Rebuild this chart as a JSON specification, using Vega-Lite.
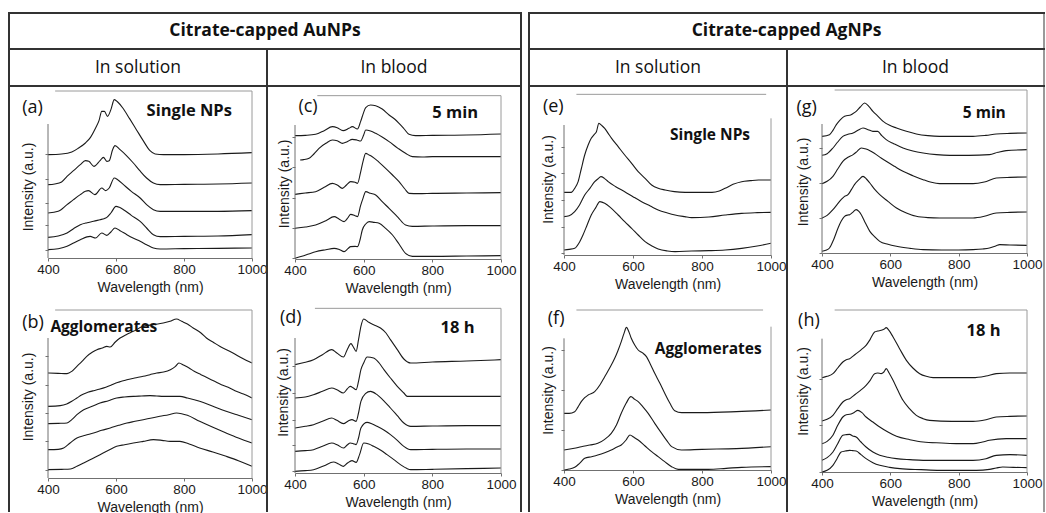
{
"$schema":"https://vega.github.io/schema/vega-lite/v6.json",
"background":"white",
"padding":{"left":8,"top":12,"right":0,"bottom":0},
"config":{
 "view":{"stroke":null},
 "axis":{"labelFont":"Liberation Sans","titleFont":"Liberation Sans","labelFontSize":13.5,"titleFontSize":14,"titleFontWeight":"normal","labelColor":"#1a1a1a","titleColor":"#1a1a1a","domainColor":"#707070","tickColor":"#707070","tickSize":3,"grid":false,"labelPadding":1,"titlePadding":5,"format":"d"}
},
"datasets":{
"a":[
{"s":1,"w":400,"v":310},{"s":1,"w":440,"v":312},{"s":1,"w":470,"v":318},{"s":1,"w":490,"v":330},{"s":1,"w":510,"v":345},{"s":1,"w":525,"v":362},{"s":1,"w":540,"v":390},{"s":1,"w":550,"v":412},{"s":1,"w":558,"v":440},{"s":1,"w":566,"v":440},{"s":1,"w":575,"v":425},{"s":1,"w":585,"v":445},{"s":1,"w":595,"v":475},{"s":1,"w":605,"v":468},{"s":1,"w":620,"v":450},{"s":1,"w":640,"v":418},{"s":1,"w":660,"v":385},{"s":1,"w":680,"v":352},{"s":1,"w":700,"v":322},{"s":1,"w":715,"v":312},{"s":1,"w":740,"v":310},{"s":1,"w":800,"v":310},{"s":1,"w":900,"v":312},{"s":1,"w":1000,"v":316},
{"s":2,"w":400,"v":220},{"s":2,"w":420,"v":222},{"s":2,"w":440,"v":228},{"s":2,"w":456,"v":245},{"s":2,"w":475,"v":262},{"s":2,"w":495,"v":280},{"s":2,"w":510,"v":292},{"s":2,"w":520,"v":290},{"s":2,"w":535,"v":275},{"s":2,"w":553,"v":292},{"s":2,"w":563,"v":302},{"s":2,"w":573,"v":290},{"s":2,"w":580,"v":292},{"s":2,"w":590,"v":325},{"s":2,"w":597,"v":337},{"s":2,"w":612,"v":325},{"s":2,"w":630,"v":308},{"s":2,"w":651,"v":285},{"s":2,"w":670,"v":262},{"s":2,"w":690,"v":240},{"s":2,"w":710,"v":225},{"s":2,"w":730,"v":220},{"s":2,"w":800,"v":221},{"s":2,"w":900,"v":222},{"s":2,"w":1000,"v":225},
{"s":3,"w":400,"v":135},{"s":3,"w":430,"v":140},{"s":3,"w":456,"v":160},{"s":3,"w":475,"v":175},{"s":3,"w":495,"v":190},{"s":3,"w":510,"v":200},{"s":3,"w":519,"v":202},{"s":3,"w":538,"v":190},{"s":3,"w":558,"v":210},{"s":3,"w":570,"v":202},{"s":3,"w":580,"v":210},{"s":3,"w":595,"v":240},{"s":3,"w":605,"v":235},{"s":3,"w":622,"v":220},{"s":3,"w":645,"v":200},{"s":3,"w":671,"v":180},{"s":3,"w":690,"v":160},{"s":3,"w":710,"v":145},{"s":3,"w":730,"v":140},{"s":3,"w":800,"v":140},{"s":3,"w":900,"v":140},{"s":3,"w":1000,"v":142},
{"s":4,"w":400,"v":62},{"s":4,"w":430,"v":66},{"s":4,"w":456,"v":75},{"s":4,"w":475,"v":88},{"s":4,"w":495,"v":100},{"s":4,"w":515,"v":106},{"s":4,"w":534,"v":110},{"s":4,"w":553,"v":115},{"s":4,"w":565,"v":118},{"s":4,"w":573,"v":122},{"s":4,"w":585,"v":135},{"s":4,"w":600,"v":155},{"s":4,"w":610,"v":152},{"s":4,"w":622,"v":145},{"s":4,"w":645,"v":128},{"s":4,"w":671,"v":110},{"s":4,"w":690,"v":90},{"s":4,"w":710,"v":70},{"s":4,"w":730,"v":64},{"s":4,"w":800,"v":65},{"s":4,"w":900,"v":66},{"s":4,"w":1000,"v":70},
{"s":5,"w":400,"v":25},{"s":5,"w":430,"v":28},{"s":5,"w":456,"v":35},{"s":5,"w":475,"v":45},{"s":5,"w":495,"v":55},{"s":5,"w":524,"v":65},{"s":5,"w":540,"v":60},{"s":5,"w":558,"v":75},{"s":5,"w":573,"v":68},{"s":5,"w":585,"v":78},{"s":5,"w":597,"v":90},{"s":5,"w":612,"v":82},{"s":5,"w":632,"v":70},{"s":5,"w":650,"v":60},{"s":5,"w":671,"v":50},{"s":5,"w":690,"v":40},{"s":5,"w":710,"v":30},{"s":5,"w":730,"v":27},{"s":5,"w":800,"v":28},{"s":5,"w":900,"v":29},{"s":5,"w":1000,"v":30}
],
"b":[
{"s":1,"w":400,"v":315},{"s":1,"w":430,"v":314},{"s":1,"w":456,"v":313},{"s":1,"w":470,"v":320},{"s":1,"w":485,"v":335},{"s":1,"w":500,"v":350},{"s":1,"w":514,"v":365},{"s":1,"w":530,"v":377},{"s":1,"w":544,"v":385},{"s":1,"w":560,"v":390},{"s":1,"w":573,"v":395},{"s":1,"w":583,"v":393},{"s":1,"w":598,"v":408},{"s":1,"w":612,"v":420},{"s":1,"w":630,"v":430},{"s":1,"w":651,"v":440},{"s":1,"w":680,"v":455},{"s":1,"w":710,"v":460},{"s":1,"w":739,"v":465},{"s":1,"w":759,"v":470},{"s":1,"w":778,"v":477},{"s":1,"w":793,"v":470},{"s":1,"w":810,"v":462},{"s":1,"w":827,"v":450},{"s":1,"w":850,"v":435},{"s":1,"w":866,"v":420},{"s":1,"w":885,"v":408},{"s":1,"w":905,"v":395},{"s":1,"w":925,"v":385},{"s":1,"w":944,"v":375},{"s":1,"w":970,"v":360},{"s":1,"w":1000,"v":345},
{"s":2,"w":400,"v":215},{"s":2,"w":436,"v":217},{"s":2,"w":455,"v":222},{"s":2,"w":470,"v":230},{"s":2,"w":485,"v":240},{"s":2,"w":500,"v":250},{"s":2,"w":517,"v":257},{"s":2,"w":534,"v":262},{"s":2,"w":550,"v":266},{"s":2,"w":570,"v":272},{"s":2,"w":585,"v":278},{"s":2,"w":600,"v":285},{"s":2,"w":616,"v":290},{"s":2,"w":632,"v":295},{"s":2,"w":655,"v":300},{"s":2,"w":680,"v":305},{"s":2,"w":700,"v":310},{"s":2,"w":720,"v":315},{"s":2,"w":740,"v":318},{"s":2,"w":760,"v":325},{"s":2,"w":775,"v":335},{"s":2,"w":785,"v":345},{"s":2,"w":800,"v":338},{"s":2,"w":815,"v":330},{"s":2,"w":830,"v":320},{"s":2,"w":850,"v":310},{"s":2,"w":870,"v":300},{"s":2,"w":890,"v":290},{"s":2,"w":910,"v":280},{"s":2,"w":930,"v":272},{"s":2,"w":950,"v":262},{"s":2,"w":975,"v":252},{"s":2,"w":1000,"v":240},
{"s":3,"w":400,"v":163},{"s":3,"w":430,"v":164},{"s":3,"w":456,"v":165},{"s":3,"w":470,"v":175},{"s":3,"w":485,"v":190},{"s":3,"w":505,"v":205},{"s":3,"w":530,"v":215},{"s":3,"w":553,"v":225},{"s":3,"w":578,"v":232},{"s":3,"w":602,"v":240},{"s":3,"w":625,"v":243},{"s":3,"w":651,"v":245},{"s":3,"w":675,"v":246},{"s":3,"w":700,"v":247},{"s":3,"w":720,"v":246},{"s":3,"w":739,"v":245},{"s":3,"w":760,"v":245},{"s":3,"w":788,"v":245},{"s":3,"w":810,"v":240},{"s":3,"w":846,"v":230},{"s":3,"w":885,"v":215},{"s":3,"w":924,"v":200},{"s":3,"w":960,"v":188},{"s":3,"w":1000,"v":175},
{"s":4,"w":400,"v":85},{"s":4,"w":430,"v":86},{"s":4,"w":446,"v":90},{"s":4,"w":465,"v":105},{"s":4,"w":485,"v":120},{"s":4,"w":510,"v":128},{"s":4,"w":534,"v":135},{"s":4,"w":558,"v":143},{"s":4,"w":583,"v":150},{"s":4,"w":608,"v":158},{"s":4,"w":632,"v":165},{"s":4,"w":656,"v":170},{"s":4,"w":680,"v":175},{"s":4,"w":705,"v":180},{"s":4,"w":729,"v":185},{"s":4,"w":755,"v":190},{"s":4,"w":778,"v":195},{"s":4,"w":793,"v":193},{"s":4,"w":810,"v":188},{"s":4,"w":846,"v":170},{"s":4,"w":885,"v":152},{"s":4,"w":924,"v":135},{"s":4,"w":960,"v":120},{"s":4,"w":1000,"v":105},
{"s":5,"w":400,"v":25},{"s":5,"w":440,"v":26},{"s":5,"w":466,"v":27},{"s":5,"w":485,"v":35},{"s":5,"w":505,"v":45},{"s":5,"w":530,"v":58},{"s":5,"w":553,"v":70},{"s":5,"w":578,"v":83},{"s":5,"w":602,"v":95},{"s":5,"w":625,"v":100},{"s":5,"w":651,"v":105},{"s":5,"w":680,"v":110},{"s":5,"w":710,"v":115},{"s":5,"w":735,"v":113},{"s":5,"w":759,"v":110},{"s":5,"w":788,"v":110},{"s":5,"w":815,"v":102},{"s":5,"w":846,"v":90},{"s":5,"w":885,"v":78},{"s":5,"w":924,"v":65},{"s":5,"w":960,"v":52},{"s":5,"w":1000,"v":35}
],
"c":[
{"s":1,"w":400,"v":370},{"s":1,"w":430,"v":371},{"s":1,"w":460,"v":374},{"s":1,"w":485,"v":385},{"s":1,"w":509,"v":397},{"s":1,"w":523,"v":394},{"s":1,"w":540,"v":385},{"s":1,"w":557,"v":392},{"s":1,"w":567,"v":397},{"s":1,"w":582,"v":390},{"s":1,"w":591,"v":412},{"s":1,"w":600,"v":440},{"s":1,"w":606,"v":454},{"s":1,"w":620,"v":462},{"s":1,"w":635,"v":460},{"s":1,"w":654,"v":450},{"s":1,"w":674,"v":432},{"s":1,"w":690,"v":420},{"s":1,"w":703,"v":407},{"s":1,"w":718,"v":390},{"s":1,"w":732,"v":374},{"s":1,"w":751,"v":370},{"s":1,"w":800,"v":371},{"s":1,"w":900,"v":372},{"s":1,"w":1000,"v":375},
{"s":2,"w":415,"v":297},{"s":2,"w":425,"v":298},{"s":2,"w":441,"v":302},{"s":2,"w":455,"v":315},{"s":2,"w":470,"v":332},{"s":2,"w":490,"v":347},{"s":2,"w":509,"v":357},{"s":2,"w":523,"v":355},{"s":2,"w":538,"v":347},{"s":2,"w":552,"v":352},{"s":2,"w":567,"v":359},{"s":2,"w":580,"v":357},{"s":2,"w":591,"v":354},{"s":2,"w":600,"v":372},{"s":2,"w":606,"v":387},{"s":2,"w":620,"v":384},{"s":2,"w":635,"v":377},{"s":2,"w":655,"v":365},{"s":2,"w":674,"v":352},{"s":2,"w":700,"v":332},{"s":2,"w":722,"v":317},{"s":2,"w":742,"v":307},{"s":2,"w":770,"v":306},{"s":2,"w":800,"v":307},{"s":2,"w":900,"v":307},{"s":2,"w":1000,"v":307},
{"s":3,"w":400,"v":194},{"s":3,"w":430,"v":198},{"s":3,"w":460,"v":202},{"s":3,"w":485,"v":215},{"s":3,"w":509,"v":227},{"s":3,"w":523,"v":222},{"s":3,"w":538,"v":212},{"s":3,"w":550,"v":222},{"s":3,"w":562,"v":232},{"s":3,"w":575,"v":230},{"s":3,"w":582,"v":227},{"s":3,"w":591,"v":260},{"s":3,"w":598,"v":292},{"s":3,"w":606,"v":317},{"s":3,"w":616,"v":312},{"s":3,"w":625,"v":307},{"s":3,"w":645,"v":290},{"s":3,"w":664,"v":272},{"s":3,"w":684,"v":252},{"s":3,"w":703,"v":232},{"s":3,"w":720,"v":210},{"s":3,"w":732,"v":197},{"s":3,"w":760,"v":196},{"s":3,"w":800,"v":197},{"s":3,"w":900,"v":198},{"s":3,"w":1000,"v":199},
{"s":4,"w":400,"v":92},{"s":4,"w":430,"v":96},{"s":4,"w":460,"v":102},{"s":4,"w":490,"v":115},{"s":4,"w":514,"v":127},{"s":4,"w":528,"v":120},{"s":4,"w":543,"v":112},{"s":4,"w":555,"v":125},{"s":4,"w":562,"v":134},{"s":4,"w":575,"v":130},{"s":4,"w":582,"v":127},{"s":4,"w":591,"v":160},{"s":4,"w":598,"v":182},{"s":4,"w":606,"v":202},{"s":4,"w":620,"v":197},{"s":4,"w":635,"v":192},{"s":4,"w":654,"v":172},{"s":4,"w":674,"v":152},{"s":4,"w":700,"v":125},{"s":4,"w":722,"v":102},{"s":4,"w":742,"v":98},{"s":4,"w":800,"v":99},{"s":4,"w":900,"v":100},{"s":4,"w":1000,"v":100},
{"s":5,"w":400,"v":2},{"s":5,"w":420,"v":8},{"s":5,"w":440,"v":15},{"s":5,"w":460,"v":22},{"s":5,"w":490,"v":28},{"s":5,"w":514,"v":32},{"s":5,"w":530,"v":28},{"s":5,"w":543,"v":22},{"s":5,"w":555,"v":32},{"s":5,"w":562,"v":37},{"s":5,"w":575,"v":38},{"s":5,"w":582,"v":37},{"s":5,"w":590,"v":60},{"s":5,"w":596,"v":87},{"s":5,"w":606,"v":105},{"s":5,"w":616,"v":112},{"s":5,"w":630,"v":110},{"s":5,"w":645,"v":107},{"s":5,"w":664,"v":92},{"s":5,"w":684,"v":72},{"s":5,"w":703,"v":45},{"s":5,"w":722,"v":17},{"s":5,"w":742,"v":8},{"s":5,"w":800,"v":8},{"s":5,"w":900,"v":9},{"s":5,"w":1000,"v":10}
],
"d":[
{"s":1,"w":400,"v":325},{"s":1,"w":430,"v":332},{"s":1,"w":454,"v":340},{"s":1,"w":480,"v":355},{"s":1,"w":507,"v":370},{"s":1,"w":522,"v":360},{"s":1,"w":541,"v":348},{"s":1,"w":552,"v":370},{"s":1,"w":563,"v":388},{"s":1,"w":570,"v":378},{"s":1,"w":578,"v":365},{"s":1,"w":585,"v":400},{"s":1,"w":592,"v":440},{"s":1,"w":600,"v":462},{"s":1,"w":615,"v":452},{"s":1,"w":629,"v":445},{"s":1,"w":649,"v":435},{"s":1,"w":665,"v":420},{"s":1,"w":678,"v":400},{"s":1,"w":698,"v":370},{"s":1,"w":717,"v":342},{"s":1,"w":737,"v":330},{"s":1,"w":800,"v":333},{"s":1,"w":900,"v":336},{"s":1,"w":1000,"v":340},
{"s":2,"w":400,"v":225},{"s":2,"w":430,"v":228},{"s":2,"w":454,"v":235},{"s":2,"w":480,"v":245},{"s":2,"w":507,"v":255},{"s":2,"w":522,"v":250},{"s":2,"w":541,"v":240},{"s":2,"w":552,"v":252},{"s":2,"w":561,"v":260},{"s":2,"w":570,"v":255},{"s":2,"w":578,"v":250},{"s":2,"w":585,"v":275},{"s":2,"w":592,"v":310},{"s":2,"w":600,"v":330},{"s":2,"w":610,"v":348},{"s":2,"w":629,"v":345},{"s":2,"w":645,"v":330},{"s":2,"w":659,"v":310},{"s":2,"w":678,"v":285},{"s":2,"w":698,"v":260},{"s":2,"w":717,"v":240},{"s":2,"w":727,"v":230},{"s":2,"w":800,"v":230},{"s":2,"w":900,"v":230},{"s":2,"w":1000,"v":230},
{"s":3,"w":400,"v":135},{"s":3,"w":430,"v":140},{"s":3,"w":454,"v":145},{"s":3,"w":480,"v":155},{"s":3,"w":507,"v":165},{"s":3,"w":522,"v":158},{"s":3,"w":541,"v":148},{"s":3,"w":555,"v":156},{"s":3,"w":566,"v":160},{"s":3,"w":578,"v":155},{"s":3,"w":585,"v":180},{"s":3,"w":592,"v":215},{"s":3,"w":605,"v":238},{"s":3,"w":620,"v":245},{"s":3,"w":639,"v":235},{"s":3,"w":660,"v":215},{"s":3,"w":678,"v":195},{"s":3,"w":698,"v":172},{"s":3,"w":717,"v":150},{"s":3,"w":737,"v":140},{"s":3,"w":800,"v":141},{"s":3,"w":900,"v":142},{"s":3,"w":1000,"v":142},
{"s":4,"w":400,"v":65},{"s":4,"w":430,"v":67},{"s":4,"w":454,"v":70},{"s":4,"w":480,"v":80},{"s":4,"w":507,"v":90},{"s":4,"w":524,"v":84},{"s":4,"w":541,"v":75},{"s":4,"w":552,"v":84},{"s":4,"w":561,"v":90},{"s":4,"w":570,"v":88},{"s":4,"w":578,"v":85},{"s":4,"w":585,"v":105},{"s":4,"w":592,"v":135},{"s":4,"w":610,"v":152},{"s":4,"w":625,"v":147},{"s":4,"w":639,"v":140},{"s":4,"w":660,"v":128},{"s":4,"w":678,"v":115},{"s":4,"w":698,"v":98},{"s":4,"w":717,"v":80},{"s":4,"w":737,"v":70},{"s":4,"w":800,"v":71},{"s":4,"w":900,"v":72},{"s":4,"w":1000,"v":72},
{"s":5,"w":400,"v":5},{"s":5,"w":430,"v":7},{"s":5,"w":454,"v":10},{"s":5,"w":485,"v":22},{"s":5,"w":512,"v":33},{"s":5,"w":527,"v":27},{"s":5,"w":541,"v":20},{"s":5,"w":553,"v":30},{"s":5,"w":566,"v":37},{"s":5,"w":578,"v":32},{"s":5,"w":588,"v":55},{"s":5,"w":600,"v":90},{"s":5,"w":615,"v":87},{"s":5,"w":629,"v":80},{"s":5,"w":650,"v":68},{"s":5,"w":668,"v":55},{"s":5,"w":688,"v":40},{"s":5,"w":707,"v":25},{"s":5,"w":725,"v":14},{"s":5,"w":737,"v":10},{"s":5,"w":800,"v":11},{"s":5,"w":900,"v":13},{"s":5,"w":1000,"v":15}
],
"e":[
{"s":1,"w":400,"v":188},{"s":1,"w":421,"v":188},{"s":1,"w":431,"v":200},{"s":1,"w":441,"v":220},{"s":1,"w":450,"v":258},{"s":1,"w":460,"v":300},{"s":1,"w":470,"v":330},{"s":1,"w":479,"v":350},{"s":1,"w":488,"v":362},{"s":1,"w":494,"v":370},{"s":1,"w":501,"v":395},{"s":1,"w":510,"v":388},{"s":1,"w":518,"v":380},{"s":1,"w":528,"v":365},{"s":1,"w":538,"v":350},{"s":1,"w":557,"v":325},{"s":1,"w":576,"v":300},{"s":1,"w":596,"v":275},{"s":1,"w":615,"v":250},{"s":1,"w":635,"v":230},{"s":1,"w":654,"v":210},{"s":1,"w":673,"v":200},{"s":1,"w":693,"v":195},{"s":1,"w":720,"v":190},{"s":1,"w":751,"v":188},{"s":1,"w":790,"v":188},{"s":1,"w":829,"v":188},{"s":1,"w":850,"v":192},{"s":1,"w":867,"v":200},{"s":1,"w":890,"v":212},{"s":1,"w":915,"v":220},{"s":1,"w":940,"v":223},{"s":1,"w":964,"v":225},{"s":1,"w":1000,"v":225},
{"s":2,"w":400,"v":115},{"s":2,"w":415,"v":118},{"s":2,"w":431,"v":130},{"s":2,"w":445,"v":150},{"s":2,"w":460,"v":180},{"s":2,"w":475,"v":200},{"s":2,"w":489,"v":220},{"s":2,"w":498,"v":228},{"s":2,"w":507,"v":235},{"s":2,"w":517,"v":230},{"s":2,"w":528,"v":220},{"s":2,"w":550,"v":205},{"s":2,"w":576,"v":190},{"s":2,"w":600,"v":175},{"s":2,"w":625,"v":160},{"s":2,"w":650,"v":147},{"s":2,"w":673,"v":135},{"s":2,"w":700,"v":126},{"s":2,"w":722,"v":120},{"s":2,"w":750,"v":115},{"s":2,"w":770,"v":112},{"s":2,"w":820,"v":114},{"s":2,"w":867,"v":120},{"s":2,"w":915,"v":125},{"s":2,"w":960,"v":127},{"s":2,"w":1000,"v":128},
{"s":3,"w":400,"v":15},{"s":3,"w":415,"v":17},{"s":3,"w":431,"v":20},{"s":3,"w":443,"v":35},{"s":3,"w":455,"v":60},{"s":3,"w":467,"v":90},{"s":3,"w":479,"v":120},{"s":3,"w":492,"v":142},{"s":3,"w":504,"v":160},{"s":3,"w":518,"v":155},{"s":3,"w":535,"v":142},{"s":3,"w":557,"v":120},{"s":3,"w":576,"v":100},{"s":3,"w":596,"v":80},{"s":3,"w":615,"v":60},{"s":3,"w":635,"v":40},{"s":3,"w":655,"v":27},{"s":3,"w":673,"v":18},{"s":3,"w":700,"v":12},{"s":3,"w":722,"v":10},{"s":3,"w":770,"v":12},{"s":3,"w":820,"v":13},{"s":3,"w":867,"v":15},{"s":3,"w":915,"v":20},{"s":3,"w":960,"v":27},{"s":3,"w":1000,"v":35}
],
"f":[
{"s":1,"w":400,"v":170},{"s":1,"w":415,"v":170},{"s":1,"w":431,"v":175},{"s":1,"w":440,"v":188},{"s":1,"w":450,"v":205},{"s":1,"w":460,"v":217},{"s":1,"w":470,"v":225},{"s":1,"w":489,"v":235},{"s":1,"w":504,"v":255},{"s":1,"w":518,"v":280},{"s":1,"w":532,"v":305},{"s":1,"w":547,"v":335},{"s":1,"w":556,"v":357},{"s":1,"w":566,"v":385},{"s":1,"w":574,"v":410},{"s":1,"w":581,"v":428},{"s":1,"w":588,"v":415},{"s":1,"w":595,"v":395},{"s":1,"w":605,"v":375},{"s":1,"w":615,"v":360},{"s":1,"w":627,"v":352},{"s":1,"w":639,"v":340},{"s":1,"w":650,"v":318},{"s":1,"w":663,"v":290},{"s":1,"w":678,"v":260},{"s":1,"w":692,"v":230},{"s":1,"w":707,"v":200},{"s":1,"w":721,"v":178},{"s":1,"w":741,"v":172},{"s":1,"w":800,"v":172},{"s":1,"w":900,"v":175},{"s":1,"w":1000,"v":180},
{"s":2,"w":400,"v":60},{"s":2,"w":430,"v":65},{"s":2,"w":450,"v":70},{"s":2,"w":475,"v":75},{"s":2,"w":498,"v":80},{"s":2,"w":518,"v":92},{"s":2,"w":537,"v":110},{"s":2,"w":552,"v":135},{"s":2,"w":566,"v":170},{"s":2,"w":580,"v":200},{"s":2,"w":594,"v":220},{"s":2,"w":605,"v":212},{"s":2,"w":615,"v":205},{"s":2,"w":630,"v":188},{"s":2,"w":644,"v":170},{"s":2,"w":663,"v":140},{"s":2,"w":683,"v":110},{"s":2,"w":698,"v":88},{"s":2,"w":712,"v":70},{"s":2,"w":741,"v":60},{"s":2,"w":800,"v":62},{"s":2,"w":900,"v":64},{"s":2,"w":1000,"v":70},
{"s":3,"w":400,"v":0},{"s":3,"w":415,"v":3},{"s":3,"w":431,"v":8},{"s":3,"w":445,"v":20},{"s":3,"w":460,"v":35},{"s":3,"w":480,"v":40},{"s":3,"w":498,"v":45},{"s":3,"w":518,"v":52},{"s":3,"w":537,"v":60},{"s":3,"w":552,"v":68},{"s":3,"w":566,"v":75},{"s":3,"w":580,"v":90},{"s":3,"w":591,"v":105},{"s":3,"w":603,"v":98},{"s":3,"w":615,"v":90},{"s":3,"w":635,"v":72},{"s":3,"w":654,"v":55},{"s":3,"w":673,"v":40},{"s":3,"w":692,"v":25},{"s":3,"w":712,"v":10},{"s":3,"w":731,"v":2},{"s":3,"w":770,"v":2},{"s":3,"w":818,"v":2},{"s":3,"w":870,"v":5},{"s":3,"w":915,"v":8},{"s":3,"w":1000,"v":10}
],
"g":[
{"s":1,"w":400,"v":350},{"s":1,"w":422,"v":355},{"s":1,"w":432,"v":368},{"s":1,"w":442,"v":385},{"s":1,"w":452,"v":398},{"s":1,"w":461,"v":407},{"s":1,"w":471,"v":412},{"s":1,"w":481,"v":413},{"s":1,"w":490,"v":418},{"s":1,"w":500,"v":425},{"s":1,"w":512,"v":438},{"s":1,"w":525,"v":450},{"s":1,"w":537,"v":440},{"s":1,"w":549,"v":425},{"s":1,"w":564,"v":410},{"s":1,"w":579,"v":395},{"s":1,"w":598,"v":383},{"s":1,"w":618,"v":375},{"s":1,"w":647,"v":365},{"s":1,"w":676,"v":357},{"s":1,"w":710,"v":352},{"s":1,"w":744,"v":350},{"s":1,"w":800,"v":350},{"s":1,"w":842,"v":350},{"s":1,"w":880,"v":353},{"s":1,"w":910,"v":357},{"s":1,"w":950,"v":359},{"s":1,"w":1000,"v":360},
{"s":2,"w":400,"v":293},{"s":2,"w":415,"v":298},{"s":2,"w":432,"v":315},{"s":2,"w":446,"v":333},{"s":2,"w":461,"v":350},{"s":2,"w":476,"v":356},{"s":2,"w":491,"v":360},{"s":2,"w":505,"v":368},{"s":2,"w":520,"v":375},{"s":2,"w":535,"v":370},{"s":2,"w":549,"v":365},{"s":2,"w":563,"v":365},{"s":2,"w":575,"v":352},{"s":2,"w":588,"v":340},{"s":2,"w":610,"v":328},{"s":2,"w":637,"v":315},{"s":2,"w":666,"v":306},{"s":2,"w":696,"v":300},{"s":2,"w":735,"v":295},{"s":2,"w":774,"v":293},{"s":2,"w":830,"v":293},{"s":2,"w":890,"v":295},{"s":2,"w":915,"v":302},{"s":2,"w":939,"v":307},{"s":2,"w":1000,"v":310},
{"s":3,"w":400,"v":208},{"s":3,"w":415,"v":215},{"s":3,"w":432,"v":230},{"s":3,"w":446,"v":252},{"s":3,"w":461,"v":275},{"s":3,"w":476,"v":287},{"s":3,"w":491,"v":295},{"s":3,"w":503,"v":305},{"s":3,"w":515,"v":315},{"s":3,"w":525,"v":313},{"s":3,"w":535,"v":310},{"s":3,"w":547,"v":303},{"s":3,"w":559,"v":295},{"s":3,"w":573,"v":285},{"s":3,"w":588,"v":275},{"s":3,"w":612,"v":260},{"s":3,"w":637,"v":245},{"s":3,"w":666,"v":232},{"s":3,"w":696,"v":220},{"s":3,"w":720,"v":212},{"s":3,"w":744,"v":208},{"s":3,"w":800,"v":208},{"s":3,"w":842,"v":208},{"s":3,"w":875,"v":213},{"s":3,"w":910,"v":225},{"s":3,"w":950,"v":227},{"s":3,"w":1000,"v":228},
{"s":4,"w":400,"v":105},{"s":4,"w":415,"v":113},{"s":4,"w":432,"v":130},{"s":4,"w":444,"v":145},{"s":4,"w":456,"v":160},{"s":4,"w":466,"v":170},{"s":4,"w":476,"v":175},{"s":4,"w":486,"v":190},{"s":4,"w":495,"v":205},{"s":4,"w":508,"v":220},{"s":4,"w":520,"v":230},{"s":4,"w":530,"v":222},{"s":4,"w":540,"v":210},{"s":4,"w":555,"v":190},{"s":4,"w":569,"v":175},{"s":4,"w":593,"v":155},{"s":4,"w":618,"v":135},{"s":4,"w":647,"v":120},{"s":4,"w":676,"v":110},{"s":4,"w":710,"v":106},{"s":4,"w":744,"v":105},{"s":4,"w":800,"v":105},{"s":4,"w":842,"v":105},{"s":4,"w":875,"v":110},{"s":4,"w":910,"v":120},{"s":4,"w":950,"v":122},{"s":4,"w":1000,"v":123},
{"s":5,"w":400,"v":5},{"s":5,"w":411,"v":8},{"s":5,"w":422,"v":15},{"s":5,"w":434,"v":40},{"s":5,"w":447,"v":75},{"s":5,"w":456,"v":95},{"s":5,"w":466,"v":110},{"s":5,"w":476,"v":114},{"s":5,"w":481,"v":115},{"s":5,"w":490,"v":122},{"s":5,"w":500,"v":130},{"s":5,"w":508,"v":125},{"s":5,"w":515,"v":115},{"s":5,"w":527,"v":90},{"s":5,"w":540,"v":65},{"s":5,"w":555,"v":48},{"s":5,"w":569,"v":35},{"s":5,"w":593,"v":26},{"s":5,"w":618,"v":20},{"s":5,"w":657,"v":14},{"s":5,"w":696,"v":10},{"s":5,"w":750,"v":9},{"s":5,"w":800,"v":9},{"s":5,"w":842,"v":10},{"s":5,"w":870,"v":12},{"s":5,"w":890,"v":15},{"s":5,"w":910,"v":22},{"s":5,"w":920,"v":25},{"s":5,"w":950,"v":24},{"s":5,"w":1000,"v":23}
],
"h":[
{"s":1,"w":400,"v":283},{"s":1,"w":415,"v":287},{"s":1,"w":432,"v":295},{"s":1,"w":446,"v":312},{"s":1,"w":461,"v":330},{"s":1,"w":471,"v":337},{"s":1,"w":481,"v":340},{"s":1,"w":490,"v":347},{"s":1,"w":500,"v":355},{"s":1,"w":515,"v":367},{"s":1,"w":529,"v":380},{"s":1,"w":541,"v":398},{"s":1,"w":554,"v":420},{"s":1,"w":563,"v":423},{"s":1,"w":573,"v":425},{"s":1,"w":581,"v":428},{"s":1,"w":588,"v":433},{"s":1,"w":596,"v":425},{"s":1,"w":608,"v":405},{"s":1,"w":627,"v":370},{"s":1,"w":647,"v":335},{"s":1,"w":666,"v":312},{"s":1,"w":686,"v":295},{"s":1,"w":705,"v":287},{"s":1,"w":725,"v":283},{"s":1,"w":790,"v":283},{"s":1,"w":842,"v":283},{"s":1,"w":880,"v":288},{"s":1,"w":910,"v":295},{"s":1,"w":950,"v":297},{"s":1,"w":1000,"v":297},
{"s":2,"w":400,"v":153},{"s":2,"w":415,"v":158},{"s":2,"w":432,"v":170},{"s":2,"w":446,"v":190},{"s":2,"w":461,"v":210},{"s":2,"w":471,"v":217},{"s":2,"w":481,"v":220},{"s":2,"w":490,"v":227},{"s":2,"w":500,"v":235},{"s":2,"w":515,"v":247},{"s":2,"w":529,"v":260},{"s":2,"w":541,"v":275},{"s":2,"w":554,"v":295},{"s":2,"w":563,"v":297},{"s":2,"w":573,"v":295},{"s":2,"w":581,"v":300},{"s":2,"w":588,"v":310},{"s":2,"w":596,"v":298},{"s":2,"w":608,"v":275},{"s":2,"w":622,"v":245},{"s":2,"w":637,"v":215},{"s":2,"w":656,"v":190},{"s":2,"w":676,"v":170},{"s":2,"w":696,"v":160},{"s":2,"w":715,"v":155},{"s":2,"w":780,"v":152},{"s":2,"w":842,"v":152},{"s":2,"w":880,"v":157},{"s":2,"w":910,"v":165},{"s":2,"w":950,"v":167},{"s":2,"w":1000,"v":168},
{"s":3,"w":400,"v":85},{"s":3,"w":415,"v":92},{"s":3,"w":432,"v":110},{"s":3,"w":446,"v":140},{"s":3,"w":461,"v":165},{"s":3,"w":471,"v":172},{"s":3,"w":481,"v":173},{"s":3,"w":493,"v":178},{"s":3,"w":505,"v":185},{"s":3,"w":517,"v":178},{"s":3,"w":529,"v":165},{"s":3,"w":549,"v":150},{"s":3,"w":569,"v":135},{"s":3,"w":593,"v":120},{"s":3,"w":618,"v":107},{"s":3,"w":657,"v":97},{"s":3,"w":696,"v":90},{"s":3,"w":750,"v":87},{"s":3,"w":800,"v":85},{"s":3,"w":842,"v":85},{"s":3,"w":870,"v":90},{"s":3,"w":890,"v":95},{"s":3,"w":939,"v":100},{"s":3,"w":1000,"v":100},
{"s":4,"w":400,"v":35},{"s":4,"w":415,"v":43},{"s":4,"w":432,"v":60},{"s":4,"w":446,"v":85},{"s":4,"w":461,"v":110},{"s":4,"w":471,"v":112},{"s":4,"w":481,"v":113},{"s":4,"w":490,"v":108},{"s":4,"w":500,"v":105},{"s":4,"w":514,"v":90},{"s":4,"w":529,"v":75},{"s":4,"w":549,"v":60},{"s":4,"w":569,"v":50},{"s":4,"w":593,"v":44},{"s":4,"w":618,"v":40},{"s":4,"w":657,"v":37},{"s":4,"w":696,"v":35},{"s":4,"w":760,"v":35},{"s":4,"w":842,"v":35},{"s":4,"w":880,"v":40},{"s":4,"w":910,"v":50},{"s":4,"w":950,"v":52},{"s":4,"w":1000,"v":50},
{"s":5,"w":400,"v":0},{"s":5,"w":415,"v":5},{"s":5,"w":432,"v":20},{"s":5,"w":444,"v":40},{"s":5,"w":456,"v":60},{"s":5,"w":468,"v":63},{"s":5,"w":481,"v":65},{"s":5,"w":490,"v":64},{"s":5,"w":500,"v":63},{"s":5,"w":514,"v":52},{"s":5,"w":529,"v":40},{"s":5,"w":549,"v":28},{"s":5,"w":569,"v":20},{"s":5,"w":598,"v":14},{"s":5,"w":628,"v":10},{"s":5,"w":690,"v":7},{"s":5,"w":744,"v":5},{"s":5,"w":800,"v":5},{"s":5,"w":852,"v":5},{"s":5,"w":890,"v":8},{"s":5,"w":910,"v":12},{"s":5,"w":929,"v":15},{"s":5,"w":960,"v":14},{"s":5,"w":1000,"v":13}
]
},
"columns":19,
"align":"each",
"bounds":"flush",
"spacing":0,
"concat":[
{"width":2,"height":2,"data":{"values":[]},"mark":"point","encoding":{},"view":{"fill":"#333333","stroke":null}},
{"width":38,"height":2,"data":{"values":[]},"mark":"point","encoding":{},"view":{"fill":"#333333","stroke":null}},
{"width":204,"height":2,"data":{"values":[]},"mark":"point","encoding":{},"view":{"fill":"#333333","stroke":null}},
{"width":14,"height":2,"data":{"values":[]},"mark":"point","encoding":{},"view":{"fill":"#333333","stroke":null}},
{"width":2,"height":2,"data":{"values":[]},"mark":"point","encoding":{},"view":{"fill":"#333333","stroke":null}},
{"width":27,"height":2,"data":{"values":[]},"mark":"point","encoding":{},"view":{"fill":"#333333","stroke":null}},
{"width":206,"height":2,"data":{"values":[]},"mark":"point","encoding":{},"view":{"fill":"#333333","stroke":null}},
{"width":19,"height":2,"data":{"values":[]},"mark":"point","encoding":{},"view":{"fill":"#333333","stroke":null}},
{"width":2,"height":2,"data":{"values":[]},"mark":"point","encoding":{},"view":{"fill":"#333333","stroke":null}},
{"width":6,"height":2,"data":{"values":[]},"mark":"point","encoding":{}},
{"width":2,"height":2,"data":{"values":[]},"mark":"point","encoding":{},"view":{"fill":"#333333","stroke":null}},
{"width":34,"height":2,"data":{"values":[]},"mark":"point","encoding":{},"view":{"fill":"#333333","stroke":null}},
{"width":207,"height":2,"data":{"values":[]},"mark":"point","encoding":{},"view":{"fill":"#333333","stroke":null}},
{"width":15,"height":2,"data":{"values":[]},"mark":"point","encoding":{},"view":{"fill":"#333333","stroke":null}},
{"width":2,"height":2,"data":{"values":[]},"mark":"point","encoding":{},"view":{"fill":"#333333","stroke":null}},
{"width":34,"height":2,"data":{"values":[]},"mark":"point","encoding":{},"view":{"fill":"#333333","stroke":null}},
{"width":205,"height":2,"data":{"values":[]},"mark":"point","encoding":{},"view":{"fill":"#333333","stroke":null}},
{"width":16,"height":2,"data":{"values":[]},"mark":"point","encoding":{},"view":{"fill":"#333333","stroke":null}},
{"width":2,"height":2,"data":{"values":[]},"mark":"point","encoding":{},"view":{"fill":"#333333","stroke":null}},

{"width":2,"height":34,"data":{"values":[]},"mark":"point","encoding":{},"view":{"fill":"#333333","stroke":null}},
{"width":1,"height":1,"data":{"values":[]},"mark":"point","encoding":{}},
{"width":1,"height":1,"data":{"values":[]},"mark":"point","encoding":{}},
{"width":1,"height":1,"data":{"values":[]},"mark":"point","encoding":{}},
{"width":2,"height":34,"data":{"values":[{"t":"Citrate-capped AuNPs"}]},"mark":{"type":"text","font":"Open Sans","fontWeight":"bold","fontSize":17.5,"color":"#111111","dx":-2},"encoding":{"text":{"field":"t"}}},
{"width":1,"height":1,"data":{"values":[]},"mark":"point","encoding":{}},
{"width":1,"height":1,"data":{"values":[]},"mark":"point","encoding":{}},
{"width":1,"height":1,"data":{"values":[]},"mark":"point","encoding":{}},
{"width":2,"height":34,"data":{"values":[]},"mark":"point","encoding":{},"view":{"fill":"#333333","stroke":null}},
{"width":1,"height":1,"data":{"values":[]},"mark":"point","encoding":{}},
{"width":2,"height":34,"data":{"values":[]},"mark":"point","encoding":{},"view":{"fill":"#333333","stroke":null}},
{"width":1,"height":1,"data":{"values":[]},"mark":"point","encoding":{}},
{"width":1,"height":1,"data":{"values":[]},"mark":"point","encoding":{}},
{"width":1,"height":1,"data":{"values":[]},"mark":"point","encoding":{}},
{"width":2,"height":34,"data":{"values":[{"t":"Citrate-capped AgNPs"}]},"mark":{"type":"text","font":"Open Sans","fontWeight":"bold","fontSize":17.5,"color":"#111111","dx":-0.5},"encoding":{"text":{"field":"t"}}},
{"width":1,"height":1,"data":{"values":[]},"mark":"point","encoding":{}},
{"width":1,"height":1,"data":{"values":[]},"mark":"point","encoding":{}},
{"width":1,"height":1,"data":{"values":[]},"mark":"point","encoding":{}},
{"width":2,"height":34,"data":{"values":[]},"mark":"point","encoding":{},"view":{"fill":"#9a9a9a","stroke":null}},

{"width":2,"height":2,"data":{"values":[]},"mark":"point","encoding":{},"view":{"fill":"#333333","stroke":null}},
{"width":38,"height":2,"data":{"values":[]},"mark":"point","encoding":{},"view":{"fill":"#333333","stroke":null}},
{"width":204,"height":2,"data":{"values":[]},"mark":"point","encoding":{},"view":{"fill":"#333333","stroke":null}},
{"width":14,"height":2,"data":{"values":[]},"mark":"point","encoding":{},"view":{"fill":"#333333","stroke":null}},
{"width":2,"height":2,"data":{"values":[]},"mark":"point","encoding":{},"view":{"fill":"#333333","stroke":null}},
{"width":27,"height":2,"data":{"values":[]},"mark":"point","encoding":{},"view":{"fill":"#333333","stroke":null}},
{"width":206,"height":2,"data":{"values":[]},"mark":"point","encoding":{},"view":{"fill":"#333333","stroke":null}},
{"width":19,"height":2,"data":{"values":[]},"mark":"point","encoding":{},"view":{"fill":"#333333","stroke":null}},
{"width":2,"height":2,"data":{"values":[]},"mark":"point","encoding":{},"view":{"fill":"#333333","stroke":null}},
{"width":6,"height":2,"data":{"values":[]},"mark":"point","encoding":{}},
{"width":2,"height":2,"data":{"values":[]},"mark":"point","encoding":{},"view":{"fill":"#333333","stroke":null}},
{"width":34,"height":2,"data":{"values":[]},"mark":"point","encoding":{},"view":{"fill":"#333333","stroke":null}},
{"width":207,"height":2,"data":{"values":[]},"mark":"point","encoding":{},"view":{"fill":"#333333","stroke":null}},
{"width":15,"height":2,"data":{"values":[]},"mark":"point","encoding":{},"view":{"fill":"#333333","stroke":null}},
{"width":2,"height":2,"data":{"values":[]},"mark":"point","encoding":{},"view":{"fill":"#333333","stroke":null}},
{"width":34,"height":2,"data":{"values":[]},"mark":"point","encoding":{},"view":{"fill":"#333333","stroke":null}},
{"width":205,"height":2,"data":{"values":[]},"mark":"point","encoding":{},"view":{"fill":"#333333","stroke":null}},
{"width":16,"height":2,"data":{"values":[]},"mark":"point","encoding":{},"view":{"fill":"#333333","stroke":null}},
{"width":2,"height":2,"data":{"values":[]},"mark":"point","encoding":{},"view":{"fill":"#333333","stroke":null}},

{"width":2,"height":35,"data":{"values":[]},"mark":"point","encoding":{},"view":{"fill":"#333333","stroke":null}},
{"width":1,"height":1,"data":{"values":[]},"mark":"point","encoding":{}},
{"width":204,"height":35,"data":{"values":[{"t":"In solution"}]},"mark":{"type":"text","font":"Open Sans","fontSize":17.5,"color":"#111111","dx":-12},"encoding":{"text":{"field":"t"}}},
{"width":1,"height":1,"data":{"values":[]},"mark":"point","encoding":{}},
{"width":2,"height":35,"data":{"values":[]},"mark":"point","encoding":{},"view":{"fill":"#333333","stroke":null}},
{"width":1,"height":1,"data":{"values":[]},"mark":"point","encoding":{}},
{"width":206,"height":35,"data":{"values":[{"t":"In blood"}]},"mark":{"type":"text","font":"Open Sans","fontSize":17.5,"color":"#111111","dx":-4},"encoding":{"text":{"field":"t"}}},
{"width":1,"height":1,"data":{"values":[]},"mark":"point","encoding":{}},
{"width":2,"height":35,"data":{"values":[]},"mark":"point","encoding":{},"view":{"fill":"#333333","stroke":null}},
{"width":1,"height":1,"data":{"values":[]},"mark":"point","encoding":{}},
{"width":2,"height":35,"data":{"values":[]},"mark":"point","encoding":{},"view":{"fill":"#333333","stroke":null}},
{"width":1,"height":1,"data":{"values":[]},"mark":"point","encoding":{}},
{"width":207,"height":35,"data":{"values":[{"t":"In solution"}]},"mark":{"type":"text","font":"Open Sans","fontSize":17.5,"color":"#111111","dx":-9.5},"encoding":{"text":{"field":"t"}}},
{"width":1,"height":1,"data":{"values":[]},"mark":"point","encoding":{}},
{"width":2,"height":35,"data":{"values":[]},"mark":"point","encoding":{},"view":{"fill":"#333333","stroke":null}},
{"width":1,"height":1,"data":{"values":[]},"mark":"point","encoding":{}},
{"width":205,"height":35,"data":{"values":[{"t":"In blood"}]},"mark":{"type":"text","font":"Open Sans","fontSize":17.5,"color":"#111111","dx":-9},"encoding":{"text":{"field":"t"}}},
{"width":1,"height":1,"data":{"values":[]},"mark":"point","encoding":{}},
{"width":2,"height":35,"data":{"values":[]},"mark":"point","encoding":{},"view":{"fill":"#9a9a9a","stroke":null}},

{"width":2,"height":2,"data":{"values":[]},"mark":"point","encoding":{},"view":{"fill":"#333333","stroke":null}},
{"width":38,"height":2,"data":{"values":[]},"mark":"point","encoding":{},"view":{"fill":"#333333","stroke":null}},
{"width":204,"height":2,"data":{"values":[]},"mark":"point","encoding":{},"view":{"fill":"#333333","stroke":null}},
{"width":14,"height":2,"data":{"values":[]},"mark":"point","encoding":{},"view":{"fill":"#333333","stroke":null}},
{"width":2,"height":2,"data":{"values":[]},"mark":"point","encoding":{},"view":{"fill":"#333333","stroke":null}},
{"width":27,"height":2,"data":{"values":[]},"mark":"point","encoding":{},"view":{"fill":"#333333","stroke":null}},
{"width":206,"height":2,"data":{"values":[]},"mark":"point","encoding":{},"view":{"fill":"#333333","stroke":null}},
{"width":19,"height":2,"data":{"values":[]},"mark":"point","encoding":{},"view":{"fill":"#333333","stroke":null}},
{"width":2,"height":2,"data":{"values":[]},"mark":"point","encoding":{},"view":{"fill":"#333333","stroke":null}},
{"width":6,"height":2,"data":{"values":[]},"mark":"point","encoding":{}},
{"width":2,"height":2,"data":{"values":[]},"mark":"point","encoding":{},"view":{"fill":"#333333","stroke":null}},
{"width":34,"height":2,"data":{"values":[]},"mark":"point","encoding":{},"view":{"fill":"#333333","stroke":null}},
{"width":207,"height":2,"data":{"values":[]},"mark":"point","encoding":{},"view":{"fill":"#333333","stroke":null}},
{"width":15,"height":2,"data":{"values":[]},"mark":"point","encoding":{},"view":{"fill":"#333333","stroke":null}},
{"width":2,"height":2,"data":{"values":[]},"mark":"point","encoding":{},"view":{"fill":"#333333","stroke":null}},
{"width":34,"height":2,"data":{"values":[]},"mark":"point","encoding":{},"view":{"fill":"#333333","stroke":null}},
{"width":205,"height":2,"data":{"values":[]},"mark":"point","encoding":{},"view":{"fill":"#333333","stroke":null}},
{"width":16,"height":2,"data":{"values":[]},"mark":"point","encoding":{},"view":{"fill":"#333333","stroke":null}},
{"width":2,"height":2,"data":{"values":[]},"mark":"point","encoding":{},"view":{"fill":"#333333","stroke":null}},

{"width":2,"height":3,"data":{"values":[]},"mark":"point","encoding":{},"view":{"fill":"#333333","stroke":null}},
{"width":1,"height":1,"data":{"values":[]},"mark":"point","encoding":{}},
{"width":1,"height":1,"data":{"values":[]},"mark":"point","encoding":{}},
{"width":1,"height":1,"data":{"values":[]},"mark":"point","encoding":{}},
{"width":2,"height":3,"data":{"values":[]},"mark":"point","encoding":{},"view":{"fill":"#333333","stroke":null}},
{"width":1,"height":1,"data":{"values":[]},"mark":"point","encoding":{}},
{"width":1,"height":1,"data":{"values":[]},"mark":"point","encoding":{}},
{"width":1,"height":1,"data":{"values":[]},"mark":"point","encoding":{}},
{"width":2,"height":3,"data":{"values":[]},"mark":"point","encoding":{},"view":{"fill":"#333333","stroke":null}},
{"width":1,"height":1,"data":{"values":[]},"mark":"point","encoding":{}},
{"width":2,"height":3,"data":{"values":[]},"mark":"point","encoding":{},"view":{"fill":"#333333","stroke":null}},
{"width":1,"height":1,"data":{"values":[]},"mark":"point","encoding":{}},
{"width":1,"height":1,"data":{"values":[]},"mark":"point","encoding":{}},
{"width":1,"height":1,"data":{"values":[]},"mark":"point","encoding":{}},
{"width":2,"height":3,"data":{"values":[]},"mark":"point","encoding":{},"view":{"fill":"#333333","stroke":null}},
{"width":1,"height":1,"data":{"values":[]},"mark":"point","encoding":{}},
{"width":1,"height":1,"data":{"values":[]},"mark":"point","encoding":{}},
{"width":1,"height":1,"data":{"values":[]},"mark":"point","encoding":{}},
{"width":2,"height":3,"data":{"values":[]},"mark":"point","encoding":{},"view":{"fill":"#9a9a9a","stroke":null}},

{"width":2,"height":169,"data":{"values":[]},"mark":"point","encoding":{},"view":{"fill":"#333333","stroke":null}},
{"width":1,"height":1,"data":{"values":[]},"mark":"point","encoding":{}},
{"width":204,"height":168,"layer":[
 {"data":{"name":"a"},"mark":{"type":"line","interpolate":"monotone","color":"#1a1a1a","strokeWidth":1.1},"encoding":{
  "x":{"field":"w","type":"quantitative","scale":{"domain":[400,1000],"nice":false,"zero":false},"axis":{"title":"Wavelength (nm)","values":[400,500,600,700,800,900,1000],"labelExpr":"datum.value % 200 == 0 ? datum.label : ''","labelFlush":false,"labelOverlap":false}},
  "y":{"field":"v","type":"quantitative","scale":{"domain":[0,504],"nice":false,"zero":false},"axis":{"title":"Intensity (a.u.)","values":[23,100,165,237,312],"labels":false,"domain":false,"titleX":-19.4,"titleY":96.5,"titleAngle":-90,"titleAlign":"center","titleBaseline":"middle"}},
  "detail":{"field":"s","type":"nominal"}}},
 {"data":{"values":[{}]},"mark":{"type":"rule","color":"#707070"},"encoding":{"x":{"datum":400},"y":{"datum":0},"y2":{"datum":402}}},
 {"data":{"values":[{}]},"mark":{"type":"rule","color":"#9a9a9a"},"encoding":{"x":{"datum":421},"x2":{"datum":1000},"y":{"datum":501}}},
 {"data":{"values":[{}]},"mark":{"type":"rule","color":"#9a9a9a"},"encoding":{"x":{"datum":1000},"y":{"datum":0},"y2":{"datum":501}}},
 {"data":{"values":[{}]},"mark":{"type":"text","font":"Open Sans","fontSize":18,"align":"left","baseline":"alphabetic","color":"#111111"},"encoding":{"x":{"datum":324},"y":{"datum":435},"text":{"value":"(a)"}}},
 {"data":{"values":[{}]},"mark":{"type":"text","font":"Open Sans","fontSize":16.5,"fontWeight":"bold","align":"left","baseline":"alphabetic","color":"#111111"},"encoding":{"x":{"datum":690},"y":{"datum":427},"text":{"value":"Single NPs"}}}
]},
{"width":1,"height":1,"data":{"values":[]},"mark":"point","encoding":{}},
{"width":2,"height":169,"data":{"values":[]},"mark":"point","encoding":{},"view":{"fill":"#333333","stroke":null}},
{"width":1,"height":1,"data":{"values":[]},"mark":"point","encoding":{}},
{"width":206,"height":169,"layer":[
 {"data":{"name":"c"},"mark":{"type":"line","interpolate":"monotone","color":"#1a1a1a","strokeWidth":1.1},"encoding":{
  "x":{"field":"w","type":"quantitative","scale":{"domain":[400,1000],"nice":false,"zero":false},"axis":{"title":"Wavelength (nm)","values":[400,500,600,700,800,900,1000],"labelExpr":"datum.value % 200 == 0 ? datum.label : ''","labelFlush":false,"labelOverlap":false}},
  "y":{"field":"v","type":"quantitative","scale":{"domain":[0,507],"nice":false,"zero":false},"axis":{"title":"Intensity (a.u.)","values":[2,92,182,277,367],"labels":false,"domain":false,"titleX":-11,"titleY":93.5,"titleAngle":-90,"titleAlign":"center","titleBaseline":"middle"}},
  "detail":{"field":"s","type":"nominal"}}},
 {"data":{"values":[{}]},"mark":{"type":"rule","color":"#707070"},"encoding":{"x":{"datum":400},"y":{"datum":0},"y2":{"datum":402}}},
 {"data":{"values":[{}]},"mark":{"type":"rule","color":"#9a9a9a"},"encoding":{"x":{"datum":465},"x2":{"datum":1000},"y":{"datum":490}}},
 {"data":{"values":[{}]},"mark":{"type":"rule","color":"#9a9a9a"},"encoding":{"x":{"datum":1000},"y":{"datum":0},"y2":{"datum":490}}},
 {"data":{"values":[{}]},"mark":{"type":"text","font":"Open Sans","fontSize":18,"align":"left","baseline":"alphabetic","color":"#111111"},"encoding":{"x":{"datum":410},"y":{"datum":441},"text":{"value":"(c)"}}},
 {"data":{"values":[{}]},"mark":{"type":"text","font":"Open Sans","fontSize":16.5,"fontWeight":"bold","align":"left","baseline":"alphabetic","color":"#111111"},"encoding":{"x":{"datum":800},"y":{"datum":423},"text":{"value":"5 min"}}}
]},
{"width":1,"height":1,"data":{"values":[]},"mark":"point","encoding":{}},
{"width":2,"height":169,"data":{"values":[]},"mark":"point","encoding":{},"view":{"fill":"#333333","stroke":null}},
{"width":1,"height":1,"data":{"values":[]},"mark":"point","encoding":{}},
{"width":2,"height":169,"data":{"values":[]},"mark":"point","encoding":{},"view":{"fill":"#333333","stroke":null}},
{"width":1,"height":1,"data":{"values":[]},"mark":"point","encoding":{}},
{"width":207,"height":165,"layer":[
 {"data":{"name":"e"},"mark":{"type":"line","interpolate":"monotone","color":"#1a1a1a","strokeWidth":1.1},"encoding":{
  "x":{"field":"w","type":"quantitative","scale":{"domain":[400,1000],"nice":false,"zero":false},"axis":{"title":"Wavelength (nm)","values":[400,500,600,700,800,900,1000],"labelExpr":"datum.value % 200 == 0 ? datum.label : ''","labelFlush":false,"labelOverlap":false}},
  "y":{"field":"v","type":"quantitative","scale":{"domain":[0,495],"nice":false,"zero":false},"axis":{"title":"Intensity (a.u.)","values":[5,85,165,245,325],"labels":false,"domain":false,"titleX":-16,"titleY":89,"titleAngle":-90,"titleAlign":"center","titleBaseline":"middle"}},
  "detail":{"field":"s","type":"nominal"}}},
 {"data":{"values":[{}]},"mark":{"type":"rule","color":"#707070"},"encoding":{"x":{"datum":400},"y":{"datum":0},"y2":{"datum":390}}},
 {"data":{"values":[{}]},"mark":{"type":"rule","color":"#9a9a9a"},"encoding":{"x":{"datum":436},"x2":{"datum":986},"y":{"datum":482}}},
 {"data":{"values":[{}]},"mark":{"type":"rule","color":"#9a9a9a"},"encoding":{"x":{"datum":1000},"y":{"datum":0},"y2":{"datum":410}}},
 {"data":{"values":[{}]},"mark":{"type":"text","font":"Open Sans","fontSize":18,"align":"left","baseline":"alphabetic","color":"#111111"},"encoding":{"x":{"datum":339},"y":{"datum":429},"text":{"value":"(e)"}}},
 {"data":{"values":[{}]},"mark":{"type":"text","font":"Open Sans","fontSize":15.5,"fontWeight":"bold","align":"left","baseline":"alphabetic","color":"#111111"},"encoding":{"x":{"datum":707},"y":{"datum":345},"text":{"value":"Single NPs"}}}
]},
{"width":1,"height":1,"data":{"values":[]},"mark":"point","encoding":{}},
{"width":2,"height":169,"data":{"values":[]},"mark":"point","encoding":{},"view":{"fill":"#333333","stroke":null}},
{"width":1,"height":1,"data":{"values":[]},"mark":"point","encoding":{}},
{"width":205,"height":163,"layer":[
 {"data":{"name":"g"},"mark":{"type":"line","interpolate":"monotone","color":"#1a1a1a","strokeWidth":1.1},"encoding":{
  "x":{"field":"w","type":"quantitative","scale":{"domain":[400,1000],"nice":false,"zero":false},"axis":{"title":"Wavelength (nm)","values":[400,500,600,700,800,900,1000],"labelExpr":"datum.value % 200 == 0 ? datum.label : ''","labelFlush":false,"labelOverlap":false}},
  "y":{"field":"v","type":"quantitative","scale":{"domain":[0,489],"nice":false,"zero":false},"axis":{"title":"Intensity (a.u.)","values":[0,50,105,155,210,260,315,365],"labels":false,"domain":false,"titleX":-18.3,"titleY":91.5,"titleAngle":-90,"titleAlign":"center","titleBaseline":"middle"}},
  "detail":{"field":"s","type":"nominal"}}},
 {"data":{"values":[{}]},"mark":{"type":"rule","color":"#707070"},"encoding":{"x":{"datum":400},"y":{"datum":0},"y2":{"datum":387}}},
 {"data":{"values":[{}]},"mark":{"type":"rule","color":"#9a9a9a"},"encoding":{"x":{"datum":437},"x2":{"datum":1000},"y":{"datum":489}}},
 {"data":{"values":[{}]},"mark":{"type":"rule","color":"#9a9a9a"},"encoding":{"x":{"datum":1000},"y":{"datum":0},"y2":{"datum":489}}},
 {"data":{"values":[{}]},"mark":{"type":"text","font":"Open Sans","fontSize":18,"align":"left","baseline":"alphabetic","color":"#111111"},"encoding":{"x":{"datum":325},"y":{"datum":419},"text":{"value":"(g)"}}},
 {"data":{"values":[{}]},"mark":{"type":"text","font":"Open Sans","fontSize":15.5,"fontWeight":"bold","align":"left","baseline":"alphabetic","color":"#111111"},"encoding":{"x":{"datum":812},"y":{"datum":406},"text":{"value":"5 min"}}}
]},
{"width":1,"height":1,"data":{"values":[]},"mark":"point","encoding":{}},
{"width":2,"height":169,"data":{"values":[]},"mark":"point","encoding":{},"view":{"fill":"#9a9a9a","stroke":null}},

{"width":2,"height":49,"data":{"values":[]},"mark":"point","encoding":{},"view":{"fill":"#333333","stroke":null}},
{"width":1,"height":1,"data":{"values":[]},"mark":"point","encoding":{}},
{"width":1,"height":1,"data":{"values":[]},"mark":"point","encoding":{}},
{"width":1,"height":1,"data":{"values":[]},"mark":"point","encoding":{}},
{"width":2,"height":49,"data":{"values":[]},"mark":"point","encoding":{},"view":{"fill":"#333333","stroke":null}},
{"width":1,"height":1,"data":{"values":[]},"mark":"point","encoding":{}},
{"width":1,"height":1,"data":{"values":[]},"mark":"point","encoding":{}},
{"width":1,"height":1,"data":{"values":[]},"mark":"point","encoding":{}},
{"width":2,"height":49,"data":{"values":[]},"mark":"point","encoding":{},"view":{"fill":"#333333","stroke":null}},
{"width":1,"height":1,"data":{"values":[]},"mark":"point","encoding":{}},
{"width":2,"height":49,"data":{"values":[]},"mark":"point","encoding":{},"view":{"fill":"#333333","stroke":null}},
{"width":1,"height":1,"data":{"values":[]},"mark":"point","encoding":{}},
{"width":1,"height":1,"data":{"values":[]},"mark":"point","encoding":{}},
{"width":1,"height":1,"data":{"values":[]},"mark":"point","encoding":{}},
{"width":2,"height":49,"data":{"values":[]},"mark":"point","encoding":{},"view":{"fill":"#333333","stroke":null}},
{"width":1,"height":1,"data":{"values":[]},"mark":"point","encoding":{}},
{"width":1,"height":1,"data":{"values":[]},"mark":"point","encoding":{}},
{"width":1,"height":1,"data":{"values":[]},"mark":"point","encoding":{}},
{"width":2,"height":49,"data":{"values":[]},"mark":"point","encoding":{},"view":{"fill":"#9a9a9a","stroke":null}},

{"width":2,"height":170,"data":{"values":[]},"mark":"point","encoding":{},"view":{"fill":"#333333","stroke":null}},
{"width":1,"height":1,"data":{"values":[]},"mark":"point","encoding":{}},
{"width":204,"height":170,"layer":[
 {"data":{"name":"b"},"mark":{"type":"line","interpolate":"monotone","color":"#1a1a1a","strokeWidth":1.1},"encoding":{
  "x":{"field":"w","type":"quantitative","scale":{"domain":[400,1000],"nice":false,"zero":false},"axis":{"title":"Wavelength (nm)","values":[400,500,600,700,800,900,1000],"labelExpr":"datum.value % 200 == 0 ? datum.label : ''","labelFlush":false,"labelOverlap":false}},
  "y":{"field":"v","type":"quantitative","scale":{"domain":[0,510],"nice":false,"zero":false},"axis":{"title":"Intensity (a.u.)","values":[25,110,195,280,365],"labels":false,"domain":false,"titleX":-19.7,"titleY":88.5,"titleAngle":-90,"titleAlign":"center","titleBaseline":"middle"}},
  "detail":{"field":"s","type":"nominal"}}},
 {"data":{"values":[{}]},"mark":{"type":"rule","color":"#707070"},"encoding":{"x":{"datum":400},"y":{"datum":0},"y2":{"datum":420}}},
 {"data":{"values":[{}]},"mark":{"type":"rule","color":"#9a9a9a"},"encoding":{"x":{"datum":421},"x2":{"datum":1000},"y":{"datum":504}}},
 {"data":{"values":[{}]},"mark":{"type":"rule","color":"#9a9a9a"},"encoding":{"x":{"datum":1000},"y":{"datum":0},"y2":{"datum":504}}},
 {"data":{"values":[{}]},"mark":{"type":"text","font":"Open Sans","fontSize":18,"align":"left","baseline":"alphabetic","color":"#111111"},"encoding":{"x":{"datum":324},"y":{"datum":451},"text":{"value":"(b)"}}},
 {"data":{"values":[{}]},"mark":{"type":"text","font":"Open Sans","fontSize":15.5,"fontWeight":"bold","align":"left","baseline":"alphabetic","color":"#111111"},"encoding":{"x":{"datum":407},"y":{"datum":439},"text":{"value":"Agglomerates"}}}
]},
{"width":1,"height":1,"data":{"values":[]},"mark":"point","encoding":{}},
{"width":2,"height":170,"data":{"values":[]},"mark":"point","encoding":{},"view":{"fill":"#333333","stroke":null}},
{"width":1,"height":1,"data":{"values":[]},"mark":"point","encoding":{}},
{"width":206,"height":165,"layer":[
 {"data":{"name":"d"},"mark":{"type":"line","interpolate":"monotone","color":"#1a1a1a","strokeWidth":1.1},"encoding":{
  "x":{"field":"w","type":"quantitative","scale":{"domain":[400,1000],"nice":false,"zero":false},"axis":{"title":"Wavelength (nm)","values":[400,500,600,700,800,900,1000],"labelExpr":"datum.value % 200 == 0 ? datum.label : ''","labelFlush":false,"labelOverlap":false}},
  "y":{"field":"v","type":"quantitative","scale":{"domain":[0,495],"nice":false,"zero":false},"axis":{"title":"Intensity (a.u.)","values":[5,85,160,240,320],"labels":false,"domain":false,"titleX":-11.7,"titleY":84,"titleAngle":-90,"titleAlign":"center","titleBaseline":"middle"}},
  "detail":{"field":"s","type":"nominal"}}},
 {"data":{"values":[{}]},"mark":{"type":"rule","color":"#707070"},"encoding":{"x":{"datum":400},"y":{"datum":0},"y2":{"datum":405}}},
 {"data":{"values":[{}]},"mark":{"type":"rule","color":"#9a9a9a"},"encoding":{"x":{"datum":458},"x2":{"datum":1000},"y":{"datum":494}}},
 {"data":{"values":[{}]},"mark":{"type":"rule","color":"#9a9a9a"},"encoding":{"x":{"datum":1000},"y":{"datum":0},"y2":{"datum":494}}},
 {"data":{"values":[{}]},"mark":{"type":"text","font":"Open Sans","fontSize":18,"align":"left","baseline":"alphabetic","color":"#111111"},"encoding":{"x":{"datum":356},"y":{"datum":451},"text":{"value":"(d)"}}},
 {"data":{"values":[{}]},"mark":{"type":"text","font":"Open Sans","fontSize":16.5,"fontWeight":"bold","align":"left","baseline":"alphabetic","color":"#111111"},"encoding":{"x":{"datum":824},"y":{"datum":421},"text":{"value":"18 h"}}}
]},
{"width":1,"height":1,"data":{"values":[]},"mark":"point","encoding":{}},
{"width":2,"height":170,"data":{"values":[]},"mark":"point","encoding":{},"view":{"fill":"#333333","stroke":null}},
{"width":1,"height":1,"data":{"values":[]},"mark":"point","encoding":{}},
{"width":2,"height":170,"data":{"values":[]},"mark":"point","encoding":{},"view":{"fill":"#333333","stroke":null}},
{"width":1,"height":1,"data":{"values":[]},"mark":"point","encoding":{}},
{"width":207,"height":162,"layer":[
 {"data":{"name":"f"},"mark":{"type":"line","interpolate":"monotone","color":"#1a1a1a","strokeWidth":1.1},"encoding":{
  "x":{"field":"w","type":"quantitative","scale":{"domain":[400,1000],"nice":false,"zero":false},"axis":{"title":"Wavelength (nm)","values":[400,500,600,700,800,900,1000],"labelExpr":"datum.value % 200 == 0 ? datum.label : ''","labelFlush":false,"labelOverlap":false}},
  "y":{"field":"v","type":"quantitative","scale":{"domain":[0,486],"nice":false,"zero":false},"axis":{"title":"Intensity (a.u.)","values":[0,120,240,360],"labels":false,"domain":false,"titleX":-15.3,"titleY":82,"titleAngle":-90,"titleAlign":"center","titleBaseline":"middle"}},
  "detail":{"field":"s","type":"nominal"}}},
 {"data":{"values":[{}]},"mark":{"type":"rule","color":"#707070"},"encoding":{"x":{"datum":400},"y":{"datum":0},"y2":{"datum":395}}},
 {"data":{"values":[{}]},"mark":{"type":"rule","color":"#9a9a9a"},"encoding":{"x":{"datum":436},"x2":{"datum":977},"y":{"datum":480}}},
 {"data":{"values":[{}]},"mark":{"type":"rule","color":"#9a9a9a"},"encoding":{"x":{"datum":1000},"y":{"datum":0},"y2":{"datum":430}}},
 {"data":{"values":[{}]},"mark":{"type":"text","font":"Open Sans","fontSize":18,"align":"left","baseline":"alphabetic","color":"#111111"},"encoding":{"x":{"datum":353},"y":{"datum":438},"text":{"value":"(f)"}}},
 {"data":{"values":[{}]},"mark":{"type":"text","font":"Open Sans","fontSize":15.5,"fontWeight":"bold","align":"left","baseline":"alphabetic","color":"#111111"},"encoding":{"x":{"datum":663},"y":{"datum":348},"text":{"value":"Agglomerates"}}}
]},
{"width":1,"height":1,"data":{"values":[]},"mark":"point","encoding":{}},
{"width":2,"height":170,"data":{"values":[]},"mark":"point","encoding":{},"view":{"fill":"#333333","stroke":null}},
{"width":1,"height":1,"data":{"values":[]},"mark":"point","encoding":{}},
{"width":205,"height":164,"layer":[
 {"data":{"name":"h"},"mark":{"type":"line","interpolate":"monotone","color":"#1a1a1a","strokeWidth":1.1},"encoding":{
  "x":{"field":"w","type":"quantitative","scale":{"domain":[400,1000],"nice":false,"zero":false},"axis":{"title":"Wavelength (nm)","values":[400,500,600,700,800,900,1000],"labelExpr":"datum.value % 200 == 0 ? datum.label : ''","labelFlush":false,"labelOverlap":false}},
  "y":{"field":"v","type":"quantitative","scale":{"domain":[0,492],"nice":false,"zero":false},"axis":{"title":"Intensity (a.u.)","values":[0,70,140,210,280,350],"labels":false,"domain":false,"titleX":-18.8,"titleY":83,"titleAngle":-90,"titleAlign":"center","titleBaseline":"middle"}},
  "detail":{"field":"s","type":"nominal"}}},
 {"data":{"values":[{}]},"mark":{"type":"rule","color":"#707070"},"encoding":{"x":{"datum":400},"y":{"datum":0},"y2":{"datum":400}}},
 {"data":{"values":[{}]},"mark":{"type":"rule","color":"#9a9a9a"},"encoding":{"x":{"datum":437},"x2":{"datum":1000},"y":{"datum":486}}},
 {"data":{"values":[{}]},"mark":{"type":"rule","color":"#9a9a9a"},"encoding":{"x":{"datum":1000},"y":{"datum":0},"y2":{"datum":486}}},
 {"data":{"values":[{}]},"mark":{"type":"text","font":"Open Sans","fontSize":18,"align":"left","baseline":"alphabetic","color":"#111111"},"encoding":{"x":{"datum":330},"y":{"datum":437},"text":{"value":"(h)"}}},
 {"data":{"values":[{}]},"mark":{"type":"text","font":"Open Sans","fontSize":16.5,"fontWeight":"bold","align":"left","baseline":"alphabetic","color":"#111111"},"encoding":{"x":{"datum":823},"y":{"datum":407},"text":{"value":"18 h"}}}
]},
{"width":1,"height":1,"data":{"values":[]},"mark":"point","encoding":{}},
{"width":2,"height":170,"data":{"values":[]},"mark":"point","encoding":{},"view":{"fill":"#9a9a9a","stroke":null}},

{"width":2,"height":34,"data":{"values":[]},"mark":"point","encoding":{},"view":{"fill":"#333333","stroke":null}},
{"width":1,"height":1,"data":{"values":[]},"mark":"point","encoding":{}},
{"width":1,"height":1,"data":{"values":[]},"mark":"point","encoding":{}},
{"width":1,"height":1,"data":{"values":[]},"mark":"point","encoding":{}},
{"width":2,"height":34,"data":{"values":[]},"mark":"point","encoding":{},"view":{"fill":"#333333","stroke":null}},
{"width":1,"height":1,"data":{"values":[]},"mark":"point","encoding":{}},
{"width":1,"height":1,"data":{"values":[]},"mark":"point","encoding":{}},
{"width":1,"height":1,"data":{"values":[]},"mark":"point","encoding":{}},
{"width":2,"height":34,"data":{"values":[]},"mark":"point","encoding":{},"view":{"fill":"#333333","stroke":null}},
{"width":1,"height":1,"data":{"values":[]},"mark":"point","encoding":{}},
{"width":2,"height":34,"data":{"values":[]},"mark":"point","encoding":{},"view":{"fill":"#333333","stroke":null}},
{"width":1,"height":1,"data":{"values":[]},"mark":"point","encoding":{}},
{"width":1,"height":1,"data":{"values":[]},"mark":"point","encoding":{}},
{"width":1,"height":1,"data":{"values":[]},"mark":"point","encoding":{}},
{"width":2,"height":34,"data":{"values":[]},"mark":"point","encoding":{},"view":{"fill":"#333333","stroke":null}},
{"width":1,"height":1,"data":{"values":[]},"mark":"point","encoding":{}},
{"width":1,"height":1,"data":{"values":[]},"mark":"point","encoding":{}},
{"width":1,"height":1,"data":{"values":[]},"mark":"point","encoding":{}},
{"width":2,"height":34,"data":{"values":[]},"mark":"point","encoding":{},"view":{"fill":"#9a9a9a","stroke":null}}
]
}
